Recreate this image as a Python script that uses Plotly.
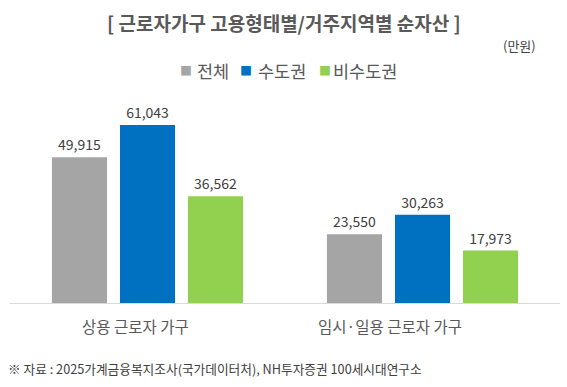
import plotly.graph_objects as go

categories = ["상용 근로자 가구", "임시·일용 근로자 가구"]
series_names = ["전체", "수도권", "비수도권"]
total = [49915, 23550]
capital = [61043, 30263]
noncapital = [36562, 17973]
colors = ["#A5A5A5", "#0070C0", "#92D050"]

W, H = 567, 387
mt, mb, ml, mr = 90, 84, 10, 7
plot_h = H - mt - mb
plot_w = W - ml - mr


def px_x(p):
    return (p - ml) / plot_w


def px_y(p):
    return 1 + (mt - p) / plot_h


fig = go.Figure()
for name, vals, col in zip(series_names, [total, capital, noncapital], colors):
    fig.add_trace(go.Bar(
        x=categories, y=vals, name=name, marker=dict(color=col, line=dict(width=0)),
        text=[f"{v:,}" for v in vals], textposition="outside",
        textfont=dict(family="Noto Sans CJK KR", size=14, color="#404040"),
        cliponaxis=False, showlegend=False,
    ))

annotations = [
    dict(text="<b>[ 근로자가구 고용형태별/거주지역별 순자산 ]</b>", xref="paper", yref="paper",
         x=px_x(284), y=px_y(22), xanchor="center", yanchor="middle", showarrow=False,
         font=dict(size=19, color="#595959")),
    dict(text="(만원)", xref="paper", yref="paper",
         x=px_x(519), y=px_y(45), xanchor="center", yanchor="middle", showarrow=False,
         font=dict(size=13, color="#404040")),
    dict(text="※ 자료 : 2025가계금융복지조사(국가데이터처), NH투자증권 100세시대연구소", xref="paper", yref="paper",
         x=px_x(6), y=px_y(368), xanchor="left", yanchor="middle",
         showarrow=False, font=dict(size=12.7, color="#404040")),
]

# legend (custom, to match the small square markers)
legend_sq = [185.5, 245.5, 324.5]
legend_tx = [195, 256, 331]
for name, col, sx, tx in zip(series_names, colors, legend_sq, legend_tx):
    annotations.append(dict(text="■", xref="paper", yref="paper", x=px_x(sx), y=px_y(70),
                            xanchor="center", yanchor="middle", showarrow=False,
                            font=dict(size=12, color=col)))
    annotations.append(dict(text=name, xref="paper", yref="paper", x=px_x(tx), y=px_y(70),
                            xanchor="left", yanchor="middle", showarrow=False,
                            font=dict(size=17.5, color="#595959")))

# category labels (slightly left of group centre, as in the reference)
label_shift = [-12, -33]
for cat, sh in zip(categories, label_shift):
    annotations.append(dict(text=cat, xref="x", yref="paper", x=cat, xshift=sh, y=px_y(326),
                            xanchor="center", yanchor="middle", showarrow=False,
                            font=dict(size=15.5, color="#595959")))

fig.update_layout(
    width=W, height=H,
    margin=dict(t=mt, b=mb, l=ml, r=mr),
    paper_bgcolor="white", plot_bgcolor="white",
    barmode="group", bargap=0.258, bargroupgap=0.19,
    font=dict(family="Noto Sans CJK KR", color="#595959"),
    showlegend=False,
    xaxis=dict(showgrid=False, showline=True, linecolor="#D9D9D9", linewidth=1,
               showticklabels=False, ticks=""),
    yaxis=dict(range=[0, 73000], visible=False, showgrid=False),
    annotations=annotations,
)

fig.write_html("out.html")
